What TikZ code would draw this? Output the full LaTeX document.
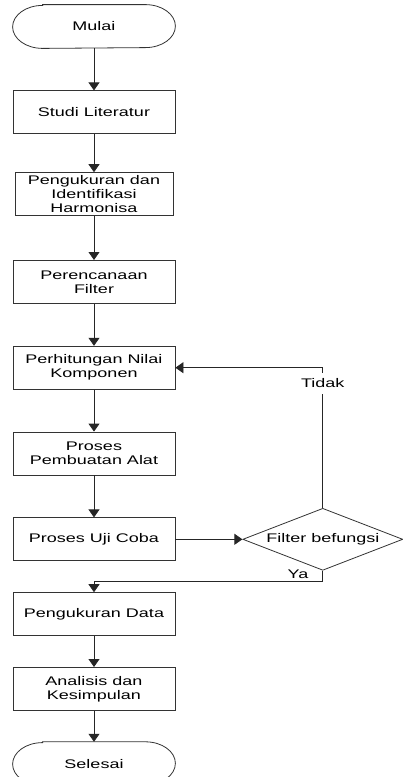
\documentclass[tikz,border=0pt]{standalone}
\usepackage{fontspec}
\newfontfamily\flowfont[FakeStretch=1.44]{Liberation Sans}
\usetikzlibrary{shapes.geometric, arrows.meta, positioning, math, calc}

\begin{document}
\begin{tikzpicture}
		\tikzmath{
			\boxW      = 162;  %box width
			\boxH      = 43;   %box height
			\capRx     = 30;   %x radius of terminal ends
			\capRy     = 21.5; %y radius of terminal ends
			\figDist   = 42;   %distance between each box
			\figDistS  = 31;   %distance between the last boxes
		}
		\tikzstyle{Base} = [
			text centered,
			align=center,
			draw=black!80,
			line width=0.8pt,
			inner sep=0pt,
			font=\flowfont\fontsize{12.5}{14}\selectfont
		]
		\tikzstyle{Process} = [
			rectangle,
			minimum width=\boxW pt,
			minimum height=\boxH pt,
			Base
		]
		\tikzstyle{Terminal} = [
			minimum width=\boxW pt,
			minimum height=\boxH pt,
			Base,
			draw=none
		]
		\tikzstyle{Decision} = [
			diamond,
			aspect=2.6,
			minimum width=160pt,
			minimum height=62pt,
			Base
		]
		\tikzstyle{Label} = [
			font=\flowfont\fontsize{12.5}{14}\selectfont,
			inner sep=0pt
		]
		\tikzstyle{Arrow} = [
			-{Triangle[width=11pt,length=8pt]},
			draw=black!85,
			line width=0.8pt
		]
		
		\useasboundingbox (0,0) rectangle (402pt,-777pt);
		%%%%%%%%%%%%%%%%%%%%%%%%%%===---MAIN COLUMN---===%%%%%%%%%%%%%%%%%%%%%%%%%%
		\node (start) [Terminal] at (94pt,-26.5pt) {Mulai};
		\node (studi) [Process, below = \figDist pt of start] {Studi Literatur};
		\node (ukur) [Process, minimum width=\boxW pt - 4pt, below = \figDist pt - 4pt of studi] {Pengukuran dan\\Identifikasi\\Harmonisa};
		\node (rencana) [Process, below = \figDist pt + 2pt of ukur] {Perencanaan\\Filter};
		\node (hitung) [Process, below = \figDist pt of rencana] {Perhitungan Nilai\\Komponen};
		\node (buat) [Process, below = \figDist pt of hitung] {Proses\\Pembuatan Alat};
		\node (uji) [Process, below = \figDist pt of buat] {Proses Uji Coba};
		\node (data) [Process, below = \figDistS pt of uji] {Pengukuran Data};
		\node (analisis) [Process, below = \figDistS pt of data] {Analisis dan\\Kesimpulan};
		\node (stop) [Terminal, below = \figDistS pt of analisis] {Selesai};
		%%%%%%%%%%%%%%%%%%%%%%%%%%===---DECISION---===%%%%%%%%%%%%%%%%%%%%%%%%%%
		\node (cek) [Decision, right = 67pt of uji] {Filter befungsi};
		%%%%%%%%%%%%%%%%%%%%%%%%%%===---TERMINAL OUTLINES---===%%%%%%%%%%%%%%%%%%%%%%%%%%
		\foreach \term in {start, stop}{
			\draw [draw=black!80, line width=0.8pt] ($(\term.north west)+(\capRx pt,0)$) -- ($(\term.north east)+(-\capRx pt,0)$)
				arc [start angle=90, end angle=-90, x radius=\capRx pt, y radius=\capRy pt]
				-- ($(\term.south west)+(\capRx pt,0)$)
				arc [start angle=270, end angle=90, x radius=\capRx pt, y radius=\capRy pt] -- cycle;
		}
		%%%%%%%%%%%%%%%%%%%%%%%%%%===---ARROWS---===%%%%%%%%%%%%%%%%%%%%%%%%%%
		\foreach \a/\b in {start/studi, studi/ukur, ukur/rencana, rencana/hitung, hitung/buat, buat/uji, uji/cek, data/analisis, analisis/stop}
			\draw [Arrow] (\a) -- (\b);
		\coordinate (back) at (cek.north |- hitung.east);
		\draw [Arrow] (cek.north) -- node [Label, fill=white, inner ysep=6pt, pos=0.89] {Tidak} (back) -- (hitung.east);
		\coordinate (yes) at ($(cek.south)+(0,-11pt)$);
		\draw [Arrow] (cek.south) -- node [Label, pos=0.3, left=14pt] {Ya} (yes) -| (data.north);
		
	\end{tikzpicture}
\end{document}
